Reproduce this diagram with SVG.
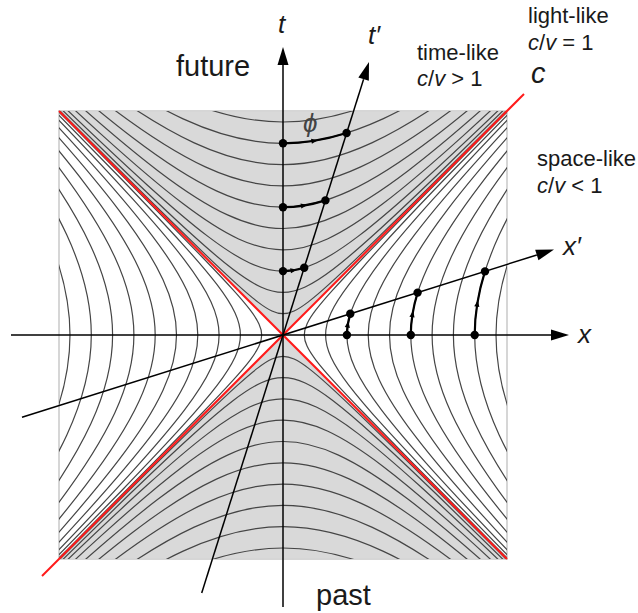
<svg xmlns="http://www.w3.org/2000/svg" xmlns:xlink="http://www.w3.org/1999/xlink" width="638" height="613" viewBox="0 0 638 613">
<style>
.lbl{font-family:"Liberation Sans",Arial,sans-serif;fill:#1a1a1a}
.it{font-style:italic}
.hyp{fill:none;stroke:#454545;stroke-width:1.2}
.emph{fill:none;stroke:#000;stroke-width:2.2}
.ax{stroke:#000;stroke-width:1.5;fill:none}
.red{stroke:#ff1a1a;stroke-width:2;fill:none}
.dot{fill:#000}
</style>
<defs>
<clipPath id="sq" clipPathUnits="userSpaceOnUse"><rect x="59" y="111" width="448" height="448"/></clipPath>
<path id="hb" vector-effect="non-scaling-stroke" d="M -16.5426 -16.5728 C -13.7805 -13.8157 -11.6958 -11.7373 -10.0179 -10.0677 C -8.3399 -8.3980 -7.0723 -7.1407 -6.0502 -6.1323 C -5.0282 -5.1239 -4.2539 -4.3667 -3.6269 -3.7622 C -3.0000 -3.1577 -2.5213 -2.7073 -2.1293 -2.3524 C -1.7372 -1.9975 -1.4324 -1.7389 -1.1752 -1.5431 C -0.9180 -1.3472 -0.7090 -1.2145 -0.5211 -1.1276 C -0.3332 -1.0408 -0.1667 -1 0 -1 C 0.1667 -1 0.3332 -1.0408 0.5211 -1.1276 C 0.7090 -1.2145 0.9180 -1.3472 1.1752 -1.5431 C 1.4324 -1.7389 1.7372 -1.9975 2.1293 -2.3524 C 2.5213 -2.7073 3.0000 -3.1577 3.6269 -3.7622 C 4.2539 -4.3667 5.0282 -5.1239 6.0502 -6.1323 C 7.0723 -7.1407 8.3399 -8.3980 10.0179 -10.0677 C 11.6958 -11.7373 13.7805 -13.8157 16.5426 -16.5728"/>
<path id="seg" vector-effect="non-scaling-stroke" d="M 0 -1 C 0.1087 -1 0.2173 -1.0176 0.3318 -1.0536"/>
<path id="arr" d="M 3.5 0 L -3 -2.6 L -3 2.6 Z"/>
<g id="fam">
<use xlink:href="#hb" transform="scale(21.3)"/>
<use xlink:href="#hb" transform="scale(42.6)"/>
<use xlink:href="#hb" transform="scale(63.9)"/>
<use xlink:href="#hb" transform="scale(85.2)"/>
<use xlink:href="#hb" transform="scale(106.5)"/>
<use xlink:href="#hb" transform="scale(127.8)"/>
<use xlink:href="#hb" transform="scale(149.1)"/>
<use xlink:href="#hb" transform="scale(170.4)"/>
<use xlink:href="#hb" transform="scale(191.7)"/>
<use xlink:href="#hb" transform="scale(213)"/>
</g>
</defs>

<g id="background">
<rect x="59" y="111" width="448" height="448" fill="#fff"/>
<polygon points="59,111 507,111 283,335" fill="#d9d9d9"/>
<polygon points="59,559 507,559 283,335" fill="#d9d9d9"/>
<rect x="59" y="111" width="448" height="448" fill="none" stroke="#d6d6d6" stroke-width="2"/>
</g>

<g id="hyperbolas" class="hyp" clip-path="url(#sq)">
<use xlink:href="#fam" transform="translate(283 335)"/>
<use xlink:href="#fam" transform="translate(283 335) scale(1 -1)"/>
<use xlink:href="#fam" transform="translate(283 335) rotate(90)"/>
<use xlink:href="#fam" transform="translate(283 335) rotate(-90)"/>
</g>

<g id="lightcone" class="red">
<line x1="42" y1="576" x2="524" y2="94"/>
<line x1="59" y1="111" x2="507" y2="559"/>
</g>

<g id="connectors">
<line class="ax" x1="283" y1="607" x2="283" y2="64"/>
<polygon points="283,47 277.5,65 288.5,65"/>
<line class="ax" x1="11" y1="335" x2="552" y2="335"/>
<polygon points="569,335 551,329.5 551,340.5"/>
<line class="ax" x1="201.7" y1="593" x2="363.6" y2="79.2"/>
<polygon points="369,62 368.84,80.82 358.34,77.52"/>
<line class="ax" x1="22" y1="417.2" x2="536.8" y2="255"/>
<polygon points="554,249.6 538.48,260.26 535.18,249.76"/>
</g>

<g id="worldlines" class="emph">
<use xlink:href="#seg" transform="translate(283 335) scale(63.9)"/>
<use xlink:href="#seg" transform="translate(283 335) scale(127.8)"/>
<use xlink:href="#seg" transform="translate(283 335) scale(191.7)"/>
<use xlink:href="#seg" transform="translate(283 335) rotate(90) scale(-63.9 63.9)"/>
<use xlink:href="#seg" transform="translate(283 335) rotate(90) scale(-127.8 127.8)"/>
<use xlink:href="#seg" transform="translate(283 335) rotate(90) scale(-191.7 191.7)"/>
</g>

<g id="small-arrows" fill="#000">
<use xlink:href="#arr" transform="translate(293.5 270.3) rotate(-9.2)"/>
<use xlink:href="#arr" transform="translate(303.9 205.5) rotate(-9.2)"/>
<use xlink:href="#arr" transform="translate(314.4 140.8) rotate(-9.2)"/>
<use xlink:href="#arr" transform="translate(347.8 324.5) rotate(-80.8)"/>
<use xlink:href="#arr" transform="translate(412.5 314.1) rotate(-80.8)"/>
<use xlink:href="#arr" transform="translate(477.3 303.6) rotate(-80.8)"/>
</g>

<g id="events" class="dot">
<circle cx="283" cy="271.1" r="4.2"/>
<circle cx="283" cy="207.2" r="4.2"/>
<circle cx="283" cy="143.3" r="4.2"/>
<circle cx="304.2" cy="267.7" r="4.2"/>
<circle cx="325.4" cy="200.4" r="4.2"/>
<circle cx="346.6" cy="133" r="4.2"/>
<circle cx="346.9" cy="335" r="4.2"/>
<circle cx="410.8" cy="335" r="4.2"/>
<circle cx="474.7" cy="335" r="4.2"/>
<circle cx="350.3" cy="313.8" r="4.2"/>
<circle cx="417.6" cy="292.6" r="4.2"/>
<circle cx="485" cy="271.4" r="4.2"/>
</g>

<g id="labels">
<text class="lbl it" x="278" y="33" font-size="26">t</text>
<text class="lbl it" x="368" y="44" font-size="26">t′</text>
<text class="lbl it" x="563" y="255" font-size="26">x′</text>
<text class="lbl it" x="578" y="343" font-size="26">x</text>
<text class="lbl" x="176" y="76" font-size="29">future</text>
<text class="lbl" x="316" y="605" font-size="29">past</text>
<text class="lbl" x="417" y="60" font-size="22">time-like</text>
<text class="lbl" x="417" y="86" font-size="22"><tspan class="it">c</tspan>/<tspan class="it">v</tspan> &gt; 1</text>
<text class="lbl" x="528" y="23" font-size="22">light-like</text>
<text class="lbl" x="528" y="50" font-size="22"><tspan class="it">c</tspan>/<tspan class="it">v</tspan> = 1</text>
<text class="lbl it" x="531" y="83" font-size="29">c</text>
<text class="lbl" x="537" y="166" font-size="22">space-like</text>
<text class="lbl" x="537" y="193" font-size="22"><tspan class="it">c</tspan>/<tspan class="it">v</tspan> &lt; 1</text>
<text class="lbl it" x="303" y="132" font-size="26" style="fill:#444">ϕ</text>
</g>
</svg>
